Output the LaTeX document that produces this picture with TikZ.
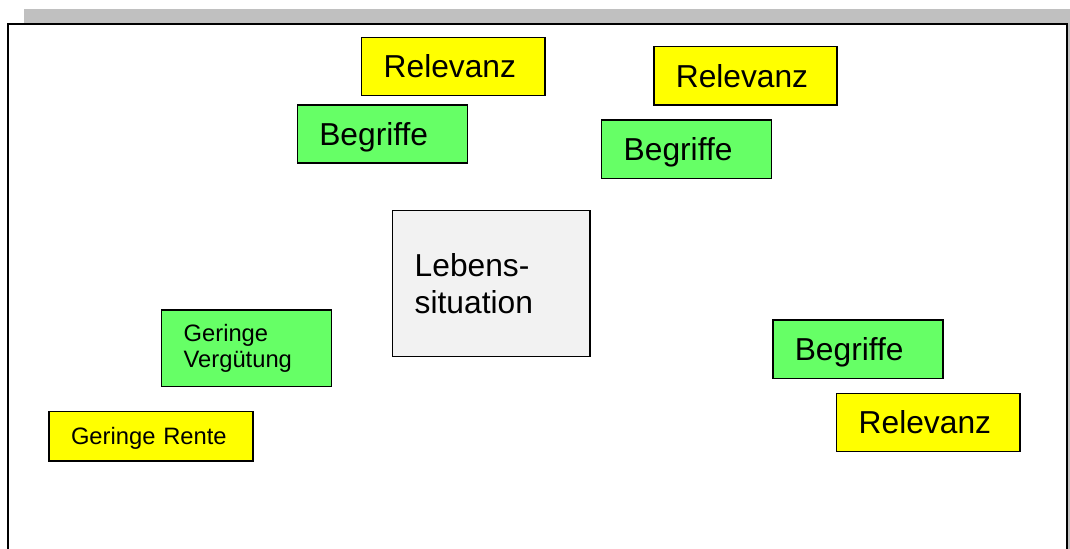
\documentclass[tikz,border=0pt]{standalone}
\usepackage{fontspec}
\setmainfont{Liberation Sans}
\definecolor{shadowgray}{HTML}{C0C0C0}
\definecolor{boxyellow}{HTML}{FFFF00}
\definecolor{boxgreen}{HTML}{66FF66}
\definecolor{boxgray}{HTML}{F2F2F2}
\tikzset{
  card/.style={draw=black, line width=1.1pt, inner xsep=16.5pt, inner ysep=0pt, align=left},
  big/.style={font=\fontsize{23.8}{27.5}\selectfont, text height=17pt, text depth=0pt},
  small/.style={font=\fontsize{17.8}{19}\selectfont},
  rel/.style={card, big, fill=boxyellow, minimum width=137.5pt, minimum height=43.8pt, text width=104.5pt},
  beg/.style={card, big, fill=boxgreen, minimum width=127.5pt, minimum height=43.6pt, text width=94.5pt},
}
\begin{document}
\begin{tikzpicture}[x=0.75pt, y=-0.75pt]
\useasboundingbox (0,0) rectangle (1070,549);
% shadow bar and frame
\fill[shadowgray] (24,9) rectangle (1070,24);
\fill[shadowgray] (1067,24) rectangle (1070,549);
\draw[line width=1.5pt] (8,549) -- (8,24) -- (1067,24) -- (1067,549);
% boxes
\node[rel] (r1) at (453.4,66.5) {Relevanz};
\node[beg] (b1) at (382.3,133.9) {Begriffe};
\node[rel] (r2) at (745.5,75.9) {Relevanz};
\node[beg] (b2) at (686.7,149.2) {Begriffe};
\node[beg] (b3) at (857.8,349.2) {Begriffe};
\node[rel] (r3) at (928.4,422.5) {Relevanz};
\node[card, font=\fontsize{23.8}{27.5}\selectfont, fill=boxgray, minimum width=148pt, minimum height=109.8pt, text width=115pt] (ls) at (491.4,283.5) {Lebens-\\situation};
\node[card, small, fill=boxgreen, minimum width=127.5pt, minimum height=57.5pt, text width=94.5pt] (gv) at (246.7,348.4) {Geringe\\Vergütung};
\node[card, small, fill=boxyellow, minimum width=152.8pt, minimum height=37pt, text width=119.8pt, text height=12.7pt, text depth=0pt] (gr) at (150.9,436.4) {Geringe Rente};
\end{tikzpicture}
\end{document}
